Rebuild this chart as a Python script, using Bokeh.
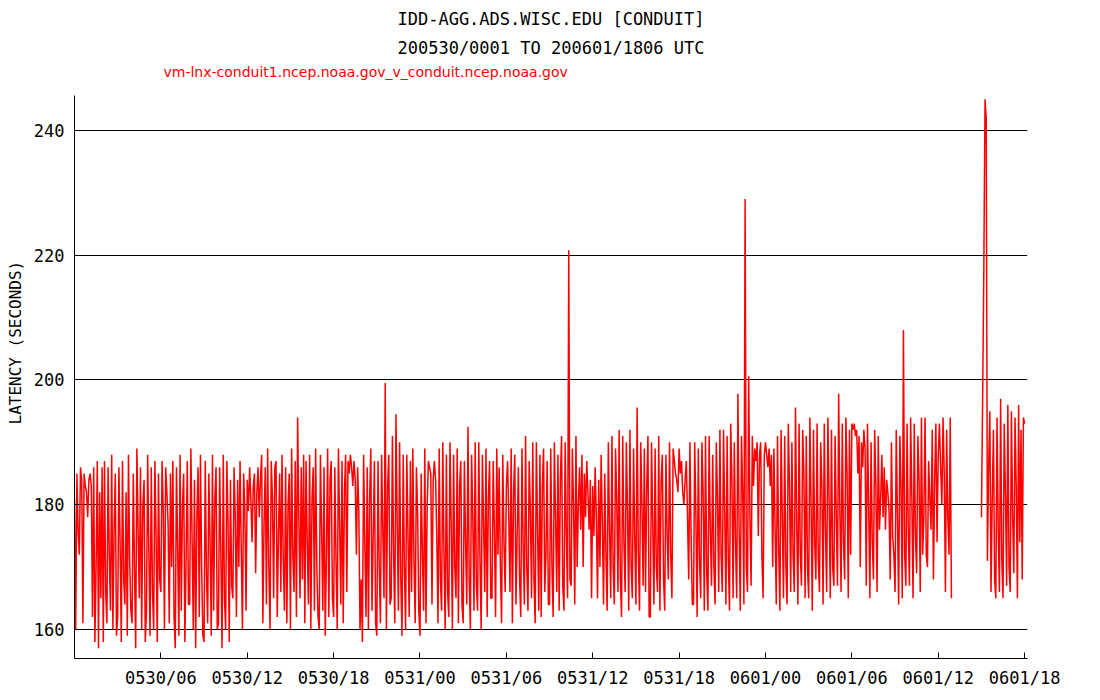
import numpy as np
from bokeh.plotting import figure
from bokeh.models import Range1d, FixedTicker, Title, ColumnDataSource
from bokeh.embed import file_html
from bokeh.resources import INLINE

# ---------------- texts ----------------
title_line1 = "IDD-AGG.ADS.WISC.EDU [CONDUIT]"
title_line2 = "200530/0001 TO 200601/1806 UTC"
series_name = "vm-lnx-conduit1.ncep.noaa.gov_v_conduit.ncep.noaa.gov"
y_label = "LATENCY (SECONDS)"

x_tick_hours = [6, 12, 18, 24, 30, 36, 42, 48, 54, 60, 66]
x_tick_labels = ["0530/06", "0530/12", "0530/18", "0531/00", "0531/06", "0531/12",
                 "0531/18", "0601/00", "0601/06", "0601/12", "0601/18"]
y_ticks = [160, 180, 200, 220, 240]

# ---------------- data (latency in seconds, 12 samples per hour) ----------------
samples_per_hour = 12
NA = float("nan")

# 0530/00 .. 0530/23
day30_latency = [
    181, 160, 185, 176, 172, 186, 184, 161, 185, 183, 182, 178,
    184, 185, 183, 162, 186, 158, 170, 187, 157, 182, 165, 186,
    158, 187, 166, 161, 186, 172, 163, 188, 160, 176, 185, 159,
    162, 186, 174, 158, 187, 168, 164, 182, 159, 188, 171, 163,
    161, 185, 170, 157, 189, 176, 165, 186, 160, 180, 184, 158,
    163, 188, 172, 159, 186, 166, 160, 187, 175, 158, 185, 168,
    166, 187, 179, 160, 186, 182, 177, 161, 185, 170, 187, 162,
    157, 186, 173, 159, 188, 163, 180, 185, 158, 171, 187, 164,
    164, 189, 175, 160, 184, 157, 178, 186, 162, 188, 170, 159,
    158, 187, 169, 161, 185, 174, 159, 188, 163, 181, 186, 160,
    161, 186, 172, 157, 188, 165, 160, 187, 177, 158, 184, 167,
    165, 186, 178, 162, 184, 170, 187, 173, 160, 185, 179, 163,
    184, 179, 186, 181, 174, 183, 185, 169, 182, 186, 178, 184,
    188, 161, 177, 186, 164, 189, 170, 160, 187, 181, 165, 186,
    187, 162, 175, 185, 166, 188, 171, 163, 186, 161, 180, 185,
    160, 189, 172, 166, 187, 162, 194, 178, 165, 186, 168, 188,
    161, 187, 174, 164, 188, 160, 181, 186, 163, 189, 170, 162,
    160, 188, 176, 163, 186, 159, 172, 189, 162, 184, 187, 165,
    162, 186, 171, 160, 189, 177, 164, 187, 161, 182, 188, 166,
    187, 185, 188, 186, 183, 187, 184, 172, 186, 179, 160, 168,
    158, 188, 174, 162, 186, 160, 181, 189, 163, 175, 187, 161,
    159, 187, 170, 161, 188, 176, 165, 199.5, 160, 183, 188, 164,
    165, 191, 172, 161, 194.5, 177, 163, 190, 168, 159, 188, 170,
    160, 188, 175, 162, 187, 166, 189, 171, 161, 186, 179, 163,
]

# 0531/00 .. 0531/23
day31_latency = [
    159, 185, 172, 163, 189, 161, 180, 187, 186, 185, 164, 184,
    187, 184, 175, 161, 189, 168, 163, 190, 172, 160, 188, 166,
    162, 190, 177, 160, 188, 170, 165, 189, 161, 183, 187, 164,
    161, 187, 174, 164, 192.5, 168, 160, 188, 178, 163, 190, 167,
    163, 190, 171, 160, 188, 177, 166, 189, 162, 181, 187, 165,
    165, 187, 176, 162, 189, 172, 186, 170, 161, 188, 174, 166,
    183, 187, 178, 166, 189, 161, 182, 188, 164, 175, 186, 168,
    162, 189, 173, 164, 191, 170, 163, 187, 179, 165, 190, 168,
    161, 190, 176, 163, 188, 162, 183, 189, 166, 172, 187, 164,
    164, 189, 170, 162, 190, 178, 166, 188, 163, 184, 191, 167,
    163, 190, 175, 165, 220.8, 168, 167, 189, 180, 164, 191, 170,
    180, 186, 176, 188, 170, 185, 178, 187, 182, 176, 184, 165,
    183, 175, 186, 178, 165, 184, 170, 188, 177, 164, 185, 172,
    163, 190, 176, 165, 191, 170, 164, 189, 181, 166, 192, 168,
    162, 191, 174, 166, 190, 179, 163, 192, 170, 165, 189, 175,
    164, 195.6, 172, 163, 190, 180, 167, 189, 166, 183, 191, 162,
    162, 190, 177, 164, 189, 170, 166, 191, 163, 184, 188, 168,
    163, 188, 175, 168, 190, 172, 165, 189, 187, 185, 184, 182,
    189, 185, 187, 182, 180, 184, 187, 178, 168, 190, 175, 164,
    164, 190, 178, 162, 189, 171, 165, 190, 182, 163, 191, 169,
    163, 191, 176, 167, 188, 170, 164, 190, 181, 166, 192, 172,
    166, 192, 179, 164, 191, 171, 163, 193, 184, 165, 190, 174,
    165, 197.8, 176, 163, 191, 182, 164, 229, 170, 166, 200.6, 178,
    167, 191, 183, 189, 187, 190, 175, 188, 190, 172, 165, 188,
]

# 0601/00 .. 0601/18 (no data 0601/13-0601/14)
day01_latency = [
    190, 188, 186, 189, 183, 188, 170, 189, 176, 164, 191, 173,
    163, 192, 178, 165, 191, 170, 164, 193, 183, 166, 190, 172,
    166, 195.6, 177, 164, 193, 172, 167, 192, 185, 165, 191, 170,
    165, 194, 180, 163, 192, 174, 168, 193, 171, 166, 190, 183,
    164, 193, 176, 166, 194, 181, 165, 192, 170, 167, 191, 178,
    167, 197.8, 179, 166, 193, 174, 168, 194, 185, 165, 192, 172,
    193, 192, 193, 191, 192, 185, 191, 170, 190, 186, 192, 189,
    167, 193, 180, 165, 190, 174, 168, 192, 183, 166, 191, 176,
    181, 188, 178, 186, 176, 184, 182, 179, 168, 190, 175, 172,
    166, 192, 178, 164, 191, 183, 165, 208, 172, 167, 193, 176,
    167, 194, 181, 165, 193, 175, 169, 191, 184, 166, 194, 172,
    178, 194, 172, 170, 187, 181, 176, 192, 168, 184, 193, 174,
    188, 193, 186, 180, 194, 185, 166, 192, 178, 172, 194, 165,
    NA, NA, NA, NA, NA, NA, NA, NA, NA, NA, NA, NA,
    NA, NA, NA, NA, NA, NA, NA, NA, NA, NA, NA, NA,
    178, 197, 218, 245, 242, 171, 186, 195, 166, 181, 192, 168,
    165, 194, 176, 166, 197, 171, 165, 193, 182, 167, 196, 170,
    166, 195, 178, 169, 194, 183, 165, 196, 174, 192, 168, 194,
    193,
]

day_start_hours = [0, 24, 48]


def sample_hours(start_hour, values):
    return [start_hour + i / samples_per_hour for i in range(len(values))]


hours = []
latency = []
for start, vals in zip(day_start_hours, [day30_latency, day31_latency, day01_latency]):
    hours += sample_hours(start, vals)
    latency += vals

source = ColumnDataSource(data=dict(hours=np.array(hours, dtype=float),
                                    latency=np.array(latency, dtype=float)))

# ---------------- figure ----------------
MONO = "DejaVu Sans Mono"

p = figure(width=1100, height=700,
           x_range=Range1d(0.0, 66.2), y_range=Range1d(155.35, 245.6),
           output_backend="svg", toolbar_location=None,
           min_border_left=74, min_border_right=73,
           min_border_top=95, min_border_bottom=42)

p.background_fill_color = "white"
p.border_fill_color = "white"
p.outline_line_color = None

p.line("hours", "latency", source=source, line_color="#ff0000", line_width=1.5)

# grid
p.xgrid.grid_line_color = None
p.ygrid.ticker = FixedTicker(ticks=y_ticks)
p.ygrid.grid_line_color = "black"
p.ygrid.grid_line_alpha = 1.0
p.ygrid.grid_line_width = 1

# x axis
p.xaxis.ticker = FixedTicker(ticks=x_tick_hours)
p.xaxis.major_label_overrides = {h: lab for h, lab in zip(x_tick_hours, x_tick_labels)}
p.xaxis.major_tick_in = 6
p.xaxis.major_tick_out = 0
p.xaxis.minor_tick_line_color = None
p.xaxis.axis_line_color = "black"
p.xaxis.major_tick_line_color = "black"
p.xaxis.major_label_text_font = MONO
p.xaxis.major_label_text_font_size = "17px"
p.xaxis.major_label_text_color = "black"
p.xaxis.major_label_standoff = 9

# y axis (its title is placed as a rotated Title in the left panel)
p.yaxis.ticker = FixedTicker(ticks=y_ticks)
p.yaxis.major_tick_in = 5
p.yaxis.major_tick_out = 0
p.yaxis.minor_tick_line_color = None
p.yaxis.axis_line_color = "black"
p.yaxis.major_tick_line_color = "black"
p.yaxis.major_label_text_font = MONO
p.yaxis.major_label_text_font_size = "17px"
p.yaxis.major_label_text_color = "black"
p.yaxis.major_label_standoff = 10

p.add_layout(Title(text=y_label, align="left", offset=234, standoff=7,
                   vertical_align="top",
                   text_font=MONO, text_font_size="16px",
                   text_font_style="normal", text_color="black"), "left")

# titles: first added sits closest to the plot frame
p.add_layout(Title(text=" ", standoff=11, text_font_size="1px"), "above")  # spacing
p.add_layout(Title(text=series_name, align="left", offset=89, standoff=4,
                   text_font="DejaVu Sans", text_font_size="14px",
                   text_font_style="normal", text_color="#ff0000"), "above")
p.add_layout(Title(text=title_line2, align="center", standoff=4,
                   text_font=MONO, text_font_size="17px",
                   text_font_style="normal", text_color="black"), "above")
p.add_layout(Title(text=title_line1, align="center", standoff=10,
                   text_font=MONO, text_font_size="17px",
                   text_font_style="normal", text_color="black"), "above")

open("out.html", "w").write(file_html(p, INLINE))
